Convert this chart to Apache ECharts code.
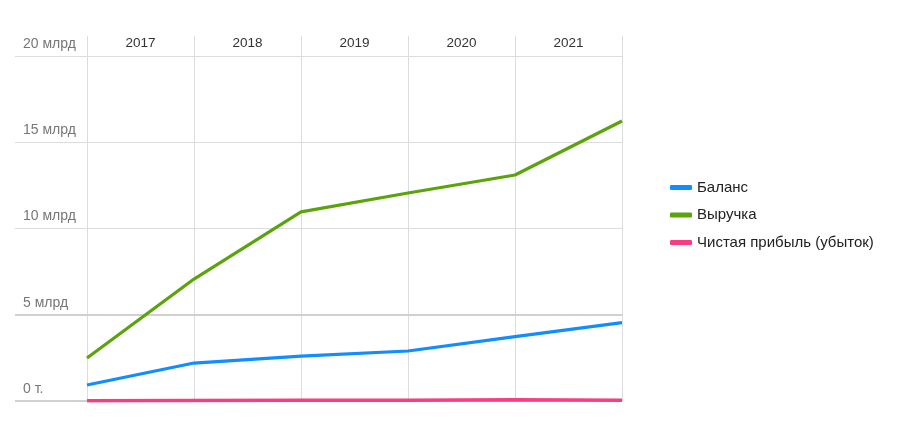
<!DOCTYPE html>
<html>
<head>
<meta charset="utf-8">
<script src="https://cdn.jsdelivr.net/npm/echarts@6/dist/echarts.min.js"></script>
<style>html,body{margin:0;padding:0;background:#fff}#c{width:900px;height:423px}</style>
</head>
<body>
<div id="c"></div>
<script>
// period-end points (6) and year labels (5)
var pointCats = ['2016', '2017', '2018', '2019', '2020', '2021'];
var yearLabels = ['2017', '2018', '2019', '2020', '2021'];
var seriesNames = ['Баланс', 'Выручка', 'Чистая прибыль (убыток)'];
// values in billions
var balance = [0.93, 2.2, 2.6, 2.9, 3.73, 4.54];
var revenue = [2.49, 7.07, 10.96, 12.06, 13.1, 16.23];
var profit = [0.02, 0.03, 0.04, 0.05, 0.07, 0.04];
var yTicks = [0, 5, 10, 15, 20];
var yTickLabels = ['0 т.', '5 млрд', '10 млрд', '15 млрд', '20 млрд'];

var colors = ['#118DFF', '#5BA30A', '#F73E84'];
var FONT = '"Liberation Sans", Arial, sans-serif';

var chart = echarts.init(document.getElementById('c'), null, {renderer: 'canvas'});
chart.setOption({
  animation: false,
  textStyle: {fontFamily: FONT},
  color: colors,
  legend: {
    orient: 'vertical',
    left: 665,
    top: 175,
    itemGap: 12.5,
    itemWidth: 22,
    itemHeight: 5,
    icon: 'roundRect',
    textStyle: {fontSize: 15, color: '#222', fontFamily: FONT},
    data: seriesNames
  },
  grid: [
    {left: 15, right: 278, top: 56, bottom: 22},
    {left: 87, right: 278, top: 36, bottom: 22},
    {left: 87, right: 278, top: 56, bottom: 22}
  ],
  xAxis: [
    {gridIndex: 0, type: 'value', min: 0, max: 1, show: false},
    {gridIndex: 1, type: 'category', data: pointCats, boundaryGap: false,
     axisLine: {show: false}, axisTick: {show: false}, axisLabel: {show: false},
     splitLine: {show: true, lineStyle: {color: '#dcdcdc', width: 1}}},
    {gridIndex: 1, type: 'category', data: yearLabels, boundaryGap: true, position: 'top',
     axisLine: {show: false}, axisTick: {show: false}, splitLine: {show: false},
     axisLabel: {inside: true, margin: 0, verticalAlign: 'top', color: '#333', fontSize: 13.5, fontFamily: FONT, padding: [0,0,0,0]}},
    {gridIndex: 2, type: 'category', data: pointCats, boundaryGap: false, show: false}
  ],
  yAxis: [
    {gridIndex: 0, type: 'value', min: 0, max: 20, interval: 5,
     axisLine: {show: false}, axisTick: {show: false},
     splitLine: {show: true, lineStyle: {color: '#dcdcdc', width: 1}},
     axisLabel: {inside: true, margin: 8, align: 'left', verticalAlign: 'bottom', padding: [0,0,5,0],
       color: '#777', fontSize: 14, fontFamily: FONT,
       formatter: function (v) { var i = yTicks.indexOf(v); return i >= 0 ? yTickLabels[i] : ''; }}},
    {gridIndex: 1, type: 'value', min: 0, max: 1, show: false},
    {gridIndex: 2, type: 'value', min: 0, max: 20, show: false}
  ],
  series: [
    {type: 'line', xAxisIndex: 0, yAxisIndex: 0, data: [], silent: true, z: 1,
     markLine: {silent: true, symbol: 'none', label: {show: false}, z: 1,
       lineStyle: {color: '#d0d0d0', width: 2, type: 'solid'},
       data: [{yAxis: 5}, {yAxis: 0}]}},
    {name: seriesNames[0], type: 'line', xAxisIndex: 3, yAxisIndex: 2, data: balance, z: 5,
     showSymbol: false, lineStyle: {width: 3.2, color: colors[0]}, itemStyle: {color: colors[0]}},
    {name: seriesNames[1], type: 'line', xAxisIndex: 3, yAxisIndex: 2, data: revenue, z: 5,
     showSymbol: false, lineStyle: {width: 3.2, color: colors[1]}, itemStyle: {color: colors[1]}},
    {name: seriesNames[2], type: 'line', xAxisIndex: 3, yAxisIndex: 2, data: profit, z: 5,
     showSymbol: false, lineStyle: {width: 3.5, color: colors[2]}, itemStyle: {color: colors[2]}}
  ]
});
</script>
</body>
</html>
